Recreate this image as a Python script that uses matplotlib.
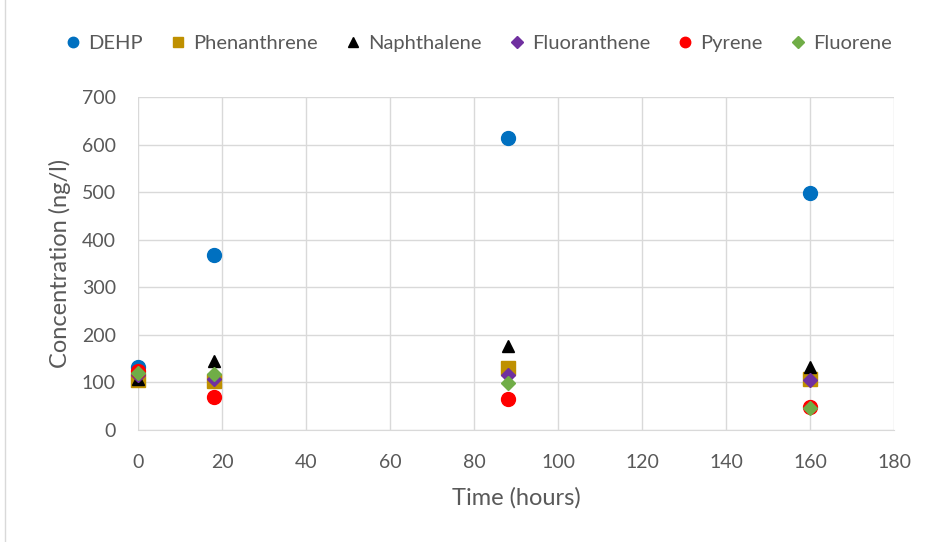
import matplotlib.pyplot as plt

time_h = [0, 18, 88, 160]
dehp = [132, 367, 613, 498]
phenanthrene = [105, 103, 130, 107]
naphthalene = [107, 145, 177, 133]
fluoranthene = [115, 108, 115, 105]
pyrene = [124, 69, 65, 48]
fluorene = [120, 118, 99, 47]

series = [
    ("DEHP", dehp, "o", "#0070C0"),
    ("Phenanthrene", phenanthrene, "s", "#BF9000"),
    ("Naphthalene", naphthalene, "^", "#000000"),
    ("Fluoranthene", fluoranthene, "D", "#7030A0"),
    ("Pyrene", pyrene, "o", "#FF0000"),
    ("Fluorene", fluorene, "D", "#70AD47"),
]

plt.rcParams['font.family'] = ['Lato', 'DejaVu Sans']

fig = plt.figure(figsize=(9.31, 5.42), dpi=100)
ax = fig.add_axes([138 / 931, 1 - 430 / 542, (894 - 138) / 931, (430 - 97) / 542])

for name, vals, mk, col in series:
    ms = 10 if mk in ("o", "s") else (9 if mk == "^" else 7.5)
    ax.plot(time_h, vals, linestyle="none", marker=mk, color=col,
            markersize=ms, label=name, clip_on=False, zorder=3)

ax.set_xlim(0, 180)
ax.set_ylim(0, 700)
ax.set_xticks(range(0, 181, 20))
ax.set_yticks(range(0, 701, 100))
ax.grid(True, color="#D9D9D9", linewidth=1)
ax.set_axisbelow(True)
for s in ("top", "right", "left"):
    ax.spines[s].set_visible(False)
ax.spines["bottom"].set_color("#D9D9D9")
ax.tick_params(length=0, labelsize=14, colors="#595959")
ax.tick_params(axis="x", pad=17)
ax.tick_params(axis="y", pad=16)

ax.set_xlabel("Time (hours)", fontsize=17, color="#595959", labelpad=12)
ax.set_ylabel("Concentration (ng/l)", fontsize=17, color="#595959", labelpad=8)

ax.legend(loc="center", bbox_to_anchor=(0.45, 1.16), ncol=6, frameon=False,
          fontsize=14.5, handlelength=0.8, handletextpad=0.35, columnspacing=1.35,
          markerscale=0.75, labelcolor="#595959")

# chart area outline
fig.add_artist(plt.Line2D([5 / 931, 5 / 931], [0, 1], color="#D9D9D9", linewidth=1))

fig.savefig("out.png", dpi=100)
